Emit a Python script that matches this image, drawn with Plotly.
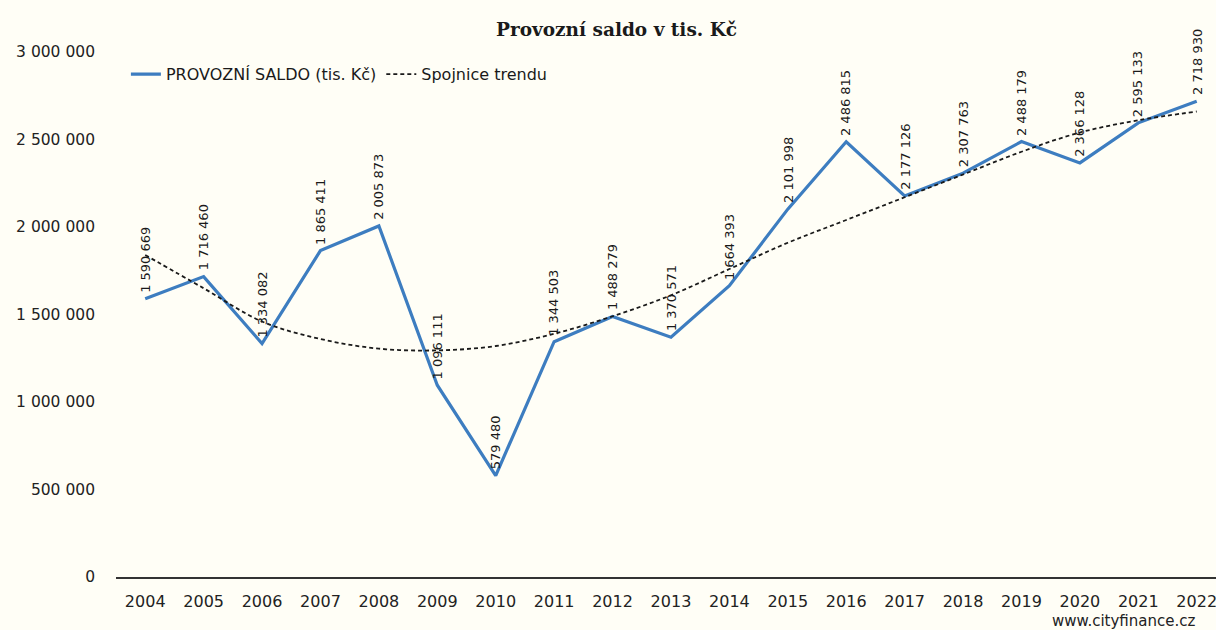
import plotly.graph_objects as go

# data
years = list(range(2004, 2023))
saldo = [1590669, 1716460, 1334082, 1865411, 2005873, 1096111, 579480, 1344503,
         1488279, 1370571, 1664393, 2101998, 2486815, 2177126, 2307763, 2488179,
         2366128, 2595133, 2718930]
# trend line (Excel polynomial trend)
trend = [1840000, 1650000, 1460000, 1360000, 1305000, 1295000, 1320000, 1390000,
         1490000, 1610000, 1760000, 1910000, 2040000, 2170000, 2300000, 2430000,
         2540000, 2610000, 2660000]

blue = '#3d7dc0'

fig = go.Figure()
fig.add_trace(go.Scatter(x=years, y=saldo, mode='lines', name='PROVOZNÍ SALDO (tis. Kč)',
                         line=dict(color=blue, width=3.2)))
fig.add_trace(go.Scatter(x=years, y=trend, mode='lines', name='Spojnice trendu',
                         line=dict(color='#1a1a1a', width=1.8, dash='4px,3px'),
                         line_shape='spline'))

# rotated value labels above the points
for yr, v in zip(years, saldo):
    fig.add_annotation(x=yr, y=v, text=f"{v:,}".replace(",", " "), textangle=-90,
                       showarrow=False, xanchor='center', yanchor='bottom', yshift=4,
                       font=dict(family='DejaVu Sans', size=13, color='#1a1a1a'))

fig.add_annotation(text='www.cityfinance.cz', xref='paper', yref='paper', x=0.984, y=-0.0835,
                   xanchor='right', yanchor='middle', showarrow=False,
                   font=dict(family='DejaVu Sans', size=15, color='#222'))

fig.update_layout(
    width=1216, height=630,
    margin=dict(l=116, r=0, t=52, b=53),
    paper_bgcolor='#fffef6', plot_bgcolor='#fffef6',
    separators=', ',
    title=dict(text='<b>Provozní saldo v tis. Kč</b>', x=0.507, xanchor='center',
               y=0.953, yanchor='middle',
               font=dict(family='DejaVu Serif', size=18.5, color='#1a1a1a')),
    legend=dict(orientation='h', x=0.009, y=0.99, xanchor='left', yanchor='top',
                bgcolor='rgba(0,0,0,0)', font=dict(family='DejaVu Sans', size=16, color='#1a1a1a'),
                itemwidth=30, tracegroupgap=0),
    showlegend=True,
)
fig.update_xaxes(range=[2003.5, 2022.33], tickvals=years, showgrid=False, showline=True,
                 linecolor='#333', linewidth=1.5, ticks='', ticklabelstandoff=9,
                 ticklabeloverflow='allow',
                 tickfont=dict(family='DejaVu Sans', size=16, color='#222'), zeroline=False)
fig.update_yaxes(range=[0, 3000000], tickvals=[0, 500000, 1000000, 1500000, 2000000, 2500000, 3000000],
                 tickformat=',d', showgrid=False, zeroline=False, showline=False,
                 ticklabelstandoff=20,
                 tickfont=dict(family='DejaVu Sans', size=15.5, color='#222'))

fig.write_html("out.html", config={'displayModeBar': False},
               post_script="document.body.style.margin='0';")
